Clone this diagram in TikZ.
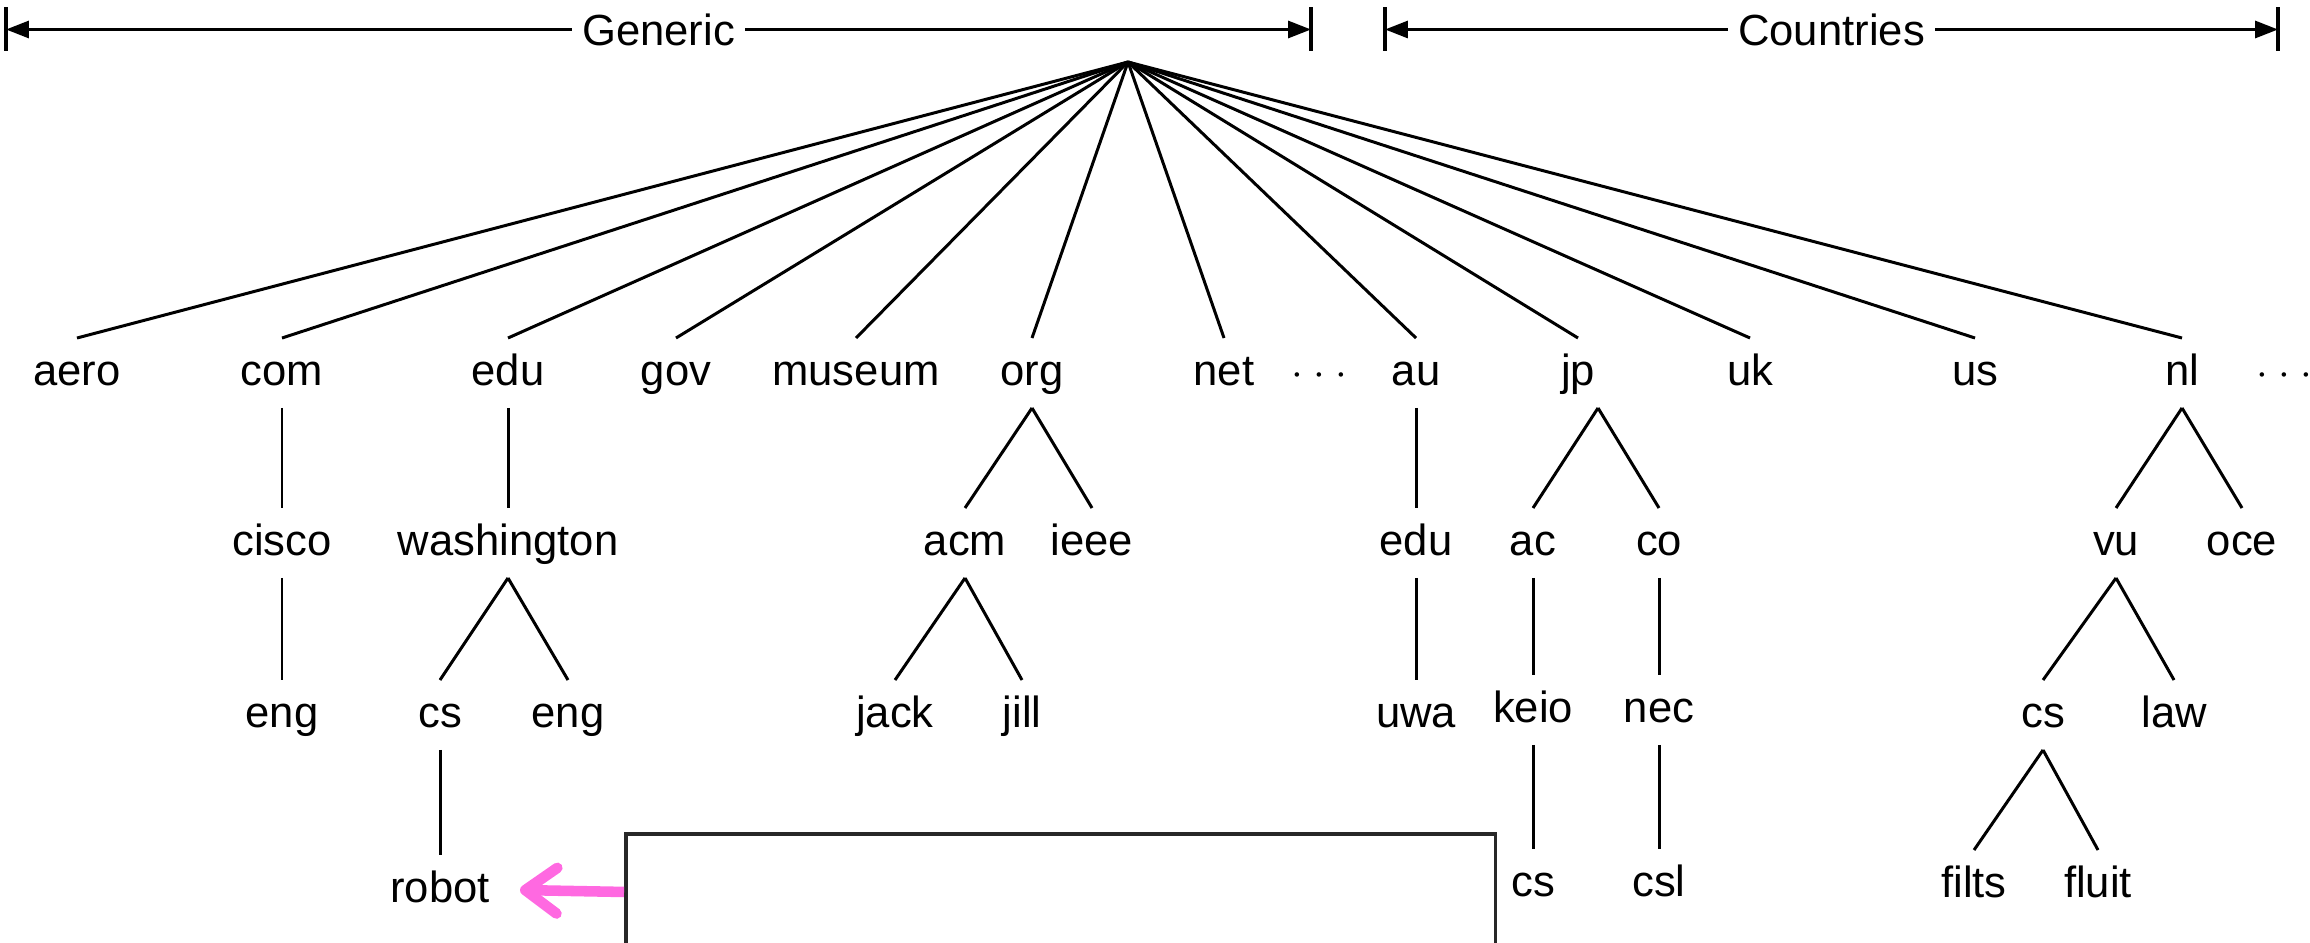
\documentclass[tikz,border=0pt]{standalone}
\usepackage{fontspec}
\setmainfont{Liberation Sans}
\usetikzlibrary{arrows.meta}
\definecolor{Pointer}{RGB}{255,105,225}
\definecolor{FrameGrey}{RGB}{40,40,40}
\tikzstyle{dom} = [inner sep=0pt, outer sep=0pt, text height=13.4pt, text depth=6.5pt]
\tikzstyle{line} = [draw, line width=0.85pt]
\tikzstyle{span} = [draw, line width=0.9pt, {Triangle[length=6.5pt,width=4.8pt]}-{Triangle[length=6.5pt,width=4.8pt]}]
\tikzstyle{endmark} = [draw, line width=0.9pt]
\tikzstyle{pointer} = [draw=Pointer, line width=3pt, -{Straight Barb[length=9pt,width=13pt,line cap=round,line join=round]}]
\newcommand{\etcdots}{$\cdot$\kern2.9pt$\cdot$\kern2.9pt$\cdot$}

\begin{document}
\begin{tikzpicture}[x=0.01cm, y=-0.01cm, font=\fontsize{12.4}{14}\selectfont]
    \useasboundingbox (0,0) rectangle (2310,943);
    \clip (0,0) rectangle (2310,943);

    % top spans
    \coordinate (genL) at (6,29.5);
    \coordinate (genR) at (1311,29.5);
    \coordinate (cntL) at (1385,29.5);
    \coordinate (cntR) at (2278,29.5);
    \path [span] (genL) -- node (generic) [fill=white, inner sep=2.9pt] {Generic} (genR);
    \path [span] (cntL) -- node (countries) [fill=white, inner sep=2.9pt] {Countries} (cntR);
    \path [endmark] (genL) ++(0,-22) -- ++(0,44);
    \path [endmark] (genR) ++(0,-22) -- ++(0,44);
    \path [endmark] (cntL) ++(0,-22) -- ++(0,44);
    \path [endmark] (cntR) ++(0,-22) -- ++(0,44);

    \coordinate (root) at (1128,62);

    % top level domains
    \node (aero)   [dom] at (77,373)   {aero};
    \node (com)    [dom] at (282,373)  {com};
    \node (edu)    [dom] at (508,373)  {edu};
    \node (gov)    [dom] at (676,373)  {gov};
    \node (museum) [dom] at (856,373)  {museum};
    \node (org)    [dom] at (1032,373) {org};
    \node (net)    [dom] at (1224,373) {net};
    \node (etcg)   [dom] at (1319,373) {\etcdots};
    \node (au)     [dom] at (1416,373) {au};
    \node (jp)     [dom] at (1578,373) {jp};
    \node (uk)     [dom] at (1750,373) {uk};
    \node (us)     [dom] at (1975,373) {us};
    \node (nl)     [dom] at (2182,373) {nl};
    \node (etcc)   [dom] at (2284,373) {\etcdots};

    % second level
    \node (cisco)      [dom] at (282,543)  {cisco};
    \node (washington) [dom] at (508,543)  {washington};
    \node (acm)        [dom] at (965,543)  {acm};
    \node (ieee)       [dom] at (1092,543) {ieee};
    \node (auedu)      [dom] at (1416,543) {edu};
    \node (ac)         [dom] at (1533,543) {ac};
    \node (co)         [dom] at (1659,543) {co};
    \node (vu)         [dom] at (2116,543) {vu};
    \node (oce)        [dom] at (2242,543) {oce};

    % third level
    \node (comeng)  [dom] at (282,715)  {eng};
    \node (washcs)  [dom] at (440,715)  {cs};
    \node (washeng) [dom] at (568,715)  {eng};
    \node (jack)    [dom] at (895,715)  {jack};
    \node (jill)    [dom] at (1022,715) {jill};
    \node (uwa)     [dom] at (1416,715) {uwa};
    \node (keio)    [dom] at (1533,710) {keio};
    \node (nec)     [dom] at (1659,710) {nec};
    \node (vucs)    [dom] at (2043,715) {cs};
    \node (law)     [dom] at (2174,715) {law};

    % fourth level
    \node (robot)  [dom] at (440,890)  {robot};
    \node (keiocs) [dom] at (1533,884) {cs};
    \node (csl)    [dom] at (1659,884) {csl};
    \node (filts)  [dom] at (1974,885) {filts};
    \node (fluit)  [dom] at (2098,885) {fluit};

    \node (frame) [draw=FrameGrey, line width=1.1pt, inner sep=0pt,
                   minimum width=8.69cm, minimum height=1.16cm,
                   anchor=north west] at (624,832) {};
    \coordinate (robotin) at (520,890);

    \foreach \tld in {aero,com,edu,gov,museum,org,net,au,jp,uk,us,nl}
      \path [line] (root) -- (\tld.north);

    \path [line] (com.south)        -- (cisco.north);
    \path [line] (cisco.south)      -- (comeng.north);
    \path [line] (edu.south)        -- (washington.north);
    \path [line] (washington.south) -- (washcs.north);
    \path [line] (washington.south) -- (washeng.north);
    \path [line] (washcs.south)     -- (robot.north);
    \path [line] (org.south)        -- (acm.north);
    \path [line] (org.south)        -- (ieee.north);
    \path [line] (acm.south)        -- (jack.north);
    \path [line] (acm.south)        -- (jill.north);
    \path [line] (au.south)         -- (auedu.north);
    \path [line] (auedu.south)      -- (uwa.north);
    \path [line] ([xshift=.2cm]jp.south) -- (ac.north);
    \path [line] ([xshift=.2cm]jp.south) -- (co.north);
    \path [line] (ac.south)         -- (keio.north);
    \path [line] (co.south)         -- (nec.north);
    \path [line] (keio.south)       -- (keiocs.north);
    \path [line] (nec.south)        -- (csl.north);
    \path [line] (nl.south)         -- (vu.north);
    \path [line] (nl.south)         -- (oce.north);
    \path [line] (vu.south)         -- (vucs.north);
    \path [line] (vu.south)         -- (law.north);
    \path [line] (vucs.south)       -- (filts.north);
    \path [line] (vucs.south)       -- (fluit.north);

    \path [pointer] (frame.west) -- (robotin);
\end{tikzpicture}
\end{document}
